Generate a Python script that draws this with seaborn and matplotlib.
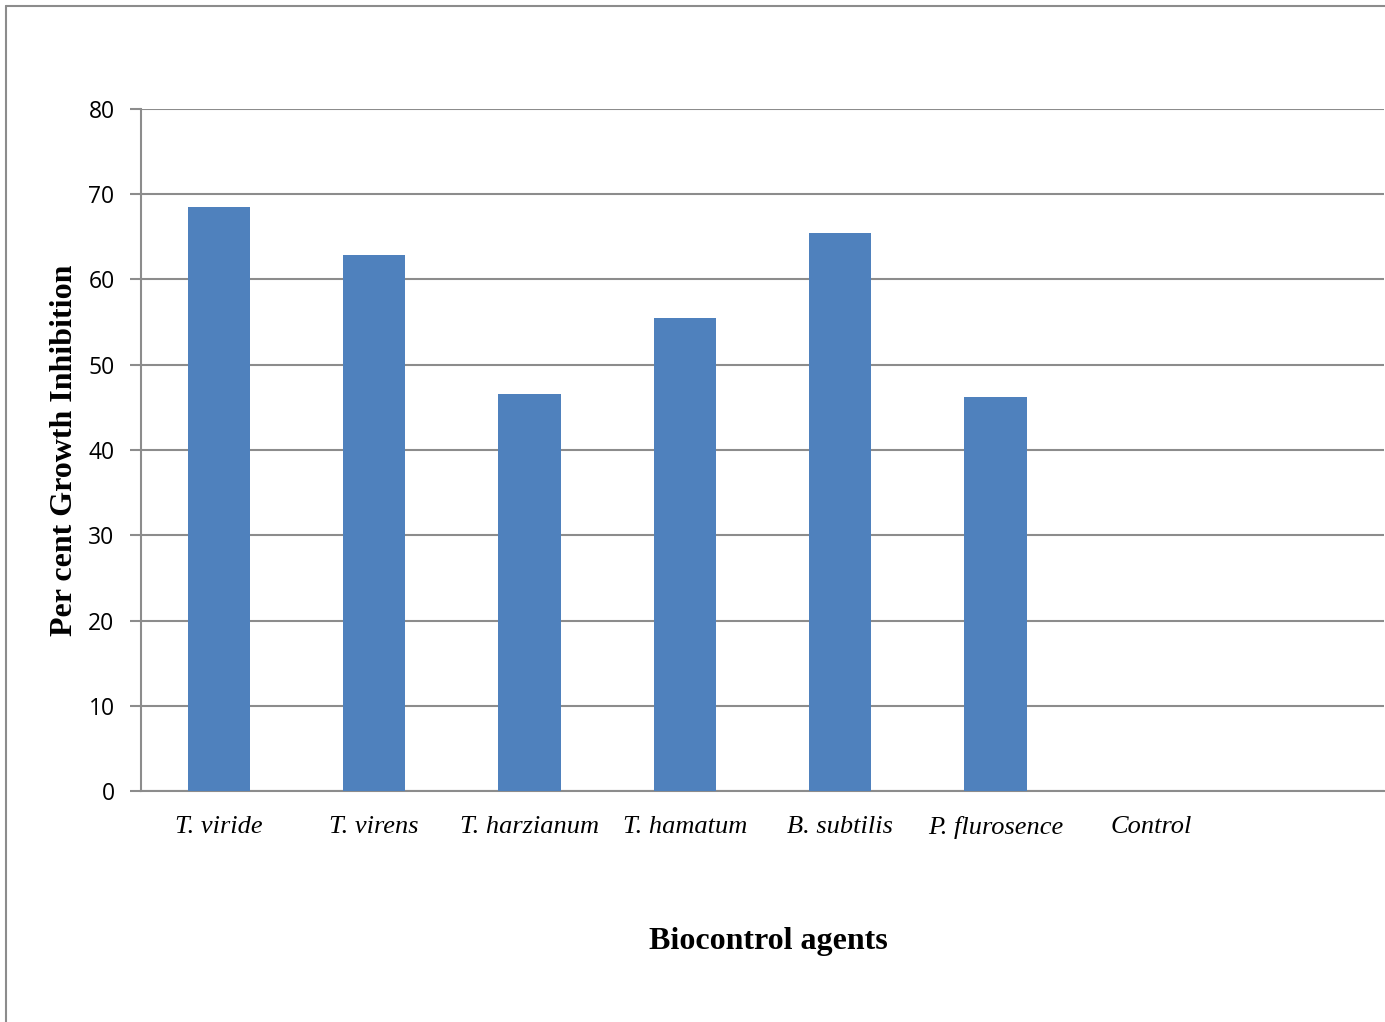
import matplotlib
matplotlib.use("Agg")
import matplotlib.pyplot as plt
import seaborn as sns
import pandas as pd
from matplotlib.lines import Line2D

categories = ["T. viride", "T. virens", "T. harzianum", "T. hamatum", "B. subtilis", "P. flurosence", "Control"]
values = [68.5, 62.9, 46.6, 55.5, 65.5, 46.2, 0.0]
yticks = [0, 10, 20, 30, 40, 50, 60, 70, 80]

sns.set_theme(style="white")
W, H = 1385, 1022
fig = plt.figure(figsize=(W / 100, H / 100), dpi=100)
ax = fig.add_axes([141 / W, 1 - 791 / H, (1384 - 141) / W, (791 - 109) / H])

df = pd.DataFrame({"cat": categories, "val": values})
sns.barplot(data=df, x="cat", y="val", order=categories, color="#4F81BD",
            width=0.4, saturation=1, linewidth=0, ax=ax, zorder=3)

grid_c = "#8C8C8C"
ax.set_ylim(0, 80)
ax.set_xlim(-0.5, 7.5)
ax.set_yticks(yticks)
ax.yaxis.grid(True, color=grid_c, linewidth=1.5, zorder=0)
ax.xaxis.grid(False)
ax.set_axisbelow(True)
for s in ["top", "right"]:
    ax.spines[s].set_visible(False)
for s in ["left", "bottom"]:
    ax.spines[s].set_color(grid_c)
    ax.spines[s].set_linewidth(1.5)
ax.tick_params(axis="y", which="both", left=True, length=8, width=1.5, color=grid_c, pad=11,
               labelsize=16.5, labelcolor="black")
ax.tick_params(axis="x", bottom=False, pad=12, labelcolor="black")
for lab in ax.get_yticklabels():
    lab.set_fontfamily("Open Sans")
ax.set_xticks(range(len(categories)))
ax.set_xticklabels(categories, fontfamily="Liberation Serif", fontstyle="italic", fontsize=19)

ax.set_xlabel("")
ax.set_ylabel("")
fig.text(768 / W, 1 - 941 / H, "Biocontrol agents", ha="center", va="center",
         fontfamily="Liberation Serif", fontweight="bold", fontsize=23, color="black")
fig.text(65 / W, 1 - 450 / H, "Per cent Growth Inhibition", ha="center", va="center",
         rotation=90, fontfamily="Liberation Serif", fontweight="bold", fontsize=23, color="black")

# outer frame (left and top edges visible)
fig.add_artist(Line2D([5.5 / W, 5.5 / W], [0, 1 - 6 / H], color="#8C8C8C", linewidth=1.5,
                      transform=fig.transFigure))
fig.add_artist(Line2D([5.5 / W, 1], [1 - 6 / H, 1 - 6 / H], color="#8C8C8C", linewidth=1.5,
                      transform=fig.transFigure))

fig.savefig("out.png", dpi=100, facecolor="white")
